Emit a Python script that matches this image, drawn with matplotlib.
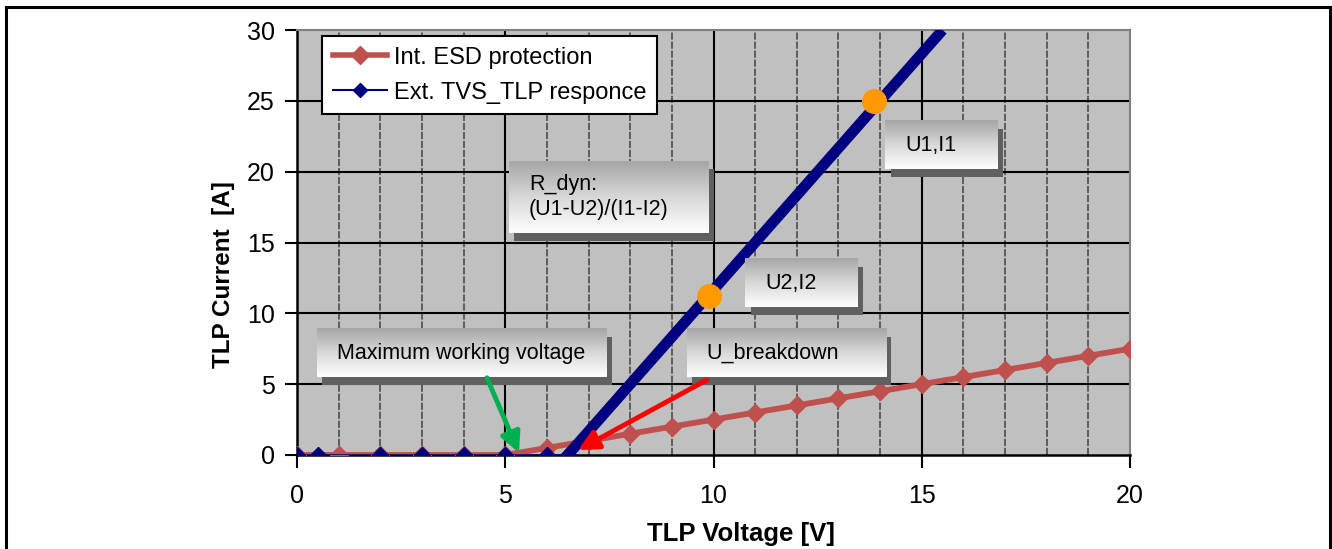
import matplotlib.pyplot as plt
import numpy as np
from matplotlib.colors import LinearSegmentedColormap
from matplotlib.patches import Rectangle
from matplotlib.lines import Line2D

plt.rcParams['font.family'] = ['Liberation Sans', 'DejaVu Sans']

# data
esd_v = [0, 1, 2, 3, 4, 5, 6, 7, 8, 9, 10, 11, 12, 13, 14, 15, 16, 17, 18, 19, 20]
esd_i = [0, 0, 0, 0, 0, 0, 0.5, 1, 1.5, 2, 2.5, 3, 3.5, 4, 4.5, 5, 5.5, 6, 6.5, 7, 7.5]

tvs_v = [0, 0.5, 2, 3, 4, 5, 6, 6.5]
tvs_i = [0, 0, 0, 0, 0, 0, 0, 0]
ramp_v = [6.5, 15.5]
ramp_i = [0, 30]

pts_v = [9.9, 13.85]
pts_i = [11.2, 25]

x_ticks = [0, 5, 10, 15, 20]
y_ticks = [0, 5, 10, 15, 20, 25, 30]

fig = plt.figure(figsize=(13.32, 5.49), dpi=100)
ax = fig.add_axes([297 / 1332, 94 / 549, 833 / 1332, 425 / 549])
ax.set_facecolor('#c0c0c0')

# grid
for xv in range(1, 20):
    if xv % 5 == 0:
        ax.axvline(xv, color='black', lw=1.5, zorder=1)
    else:
        ax.axvline(xv, color='#555555', lw=1.3, ls=(0, (4, 1)), zorder=1)
for yv in y_ticks[1:-1]:
    ax.axhline(yv, color='black', lw=1.5, zorder=1)

# series
ax.plot(esd_v, esd_i, color='#c0504d', lw=4.2, marker='D', ms=9.5, zorder=3,
        label='Int. ESD protection')
ax.plot(ramp_v, ramp_i, color='#000080', lw=7.8, zorder=4, solid_capstyle='butt')
ax.plot(tvs_v, tvs_i, color='#000080', lw=1.8, marker='D', ms=8, zorder=4)
ax.plot(pts_v, pts_i, 'o', color='#ff9900', ms=17, zorder=6)

legend_handles = [
    Line2D([], [], color='#c0504d', lw=4, marker='D', ms=9),
    Line2D([], [], color='#000080', lw=1.5, marker='D', ms=7),
]
leg = ax.legend(legend_handles, ['Int. ESD protection', 'Ext. TVS_TLP responce'],
                loc='upper left', bbox_to_anchor=(0.030, 0.986), borderaxespad=0,
                fontsize=17, fancybox=False, framealpha=1, edgecolor='black',
                handlelength=2.3, handletextpad=0.3, labelspacing=0.55,
                borderpad=0.45)
leg.get_frame().set_linewidth(1.5)
leg.set_zorder(10)

# annotation boxes with gradient fill and shadow
grad_cmap = LinearSegmentedColormap.from_list('g', ['#a6a6a6', '#d8d8d8', '#ffffff'])
grad = np.linspace(0, 1, 80).reshape(-1, 1)


def draw_box(x0, x1, y0, y1, text):
    ax.add_patch(Rectangle((x0 + 0.13, y0 - 0.55), x1 - x0, y1 - y0,
                           facecolor='#606060', edgecolor='none', zorder=7))
    ax.imshow(grad, cmap=grad_cmap, extent=(x0, x1, y0, y1), aspect='auto',
              origin='upper', zorder=8, interpolation='bilinear')
    ax.text(x0 + 0.48, (y0 + y1) / 2, text, fontsize=15.5, va='center', ha='left',
            zorder=9, linespacing=1.25)


draw_box(14.12, 16.83, 20.18, 23.57, 'U1,I1')
draw_box(5.09, 9.89, 15.67, 20.75, 'R_dyn:\n(U1-U2)/(I1-I2)')
draw_box(10.76, 13.47, 10.44, 13.83, 'U2,I2')
draw_box(0.48, 7.44, 5.50, 8.89, 'Maximum working voltage')
draw_box(9.36, 14.14, 5.50, 8.89, 'U_breakdown')

# arrows
ax.annotate('', xy=(5.33, 0.15), xytext=(4.56, 5.45),
            arrowprops=dict(arrowstyle='-|>,head_length=1.2,head_width=0.6',
                            color='#00b050', lw=3.5, shrinkA=0, shrinkB=0),
            zorder=9)
ax.annotate('', xy=(6.75, 0.35), xytext=(9.84, 5.3),
            arrowprops=dict(arrowstyle='-|>,head_length=1.2,head_width=0.6',
                            color='#ff0000', lw=3.5, shrinkA=0, shrinkB=0),
            zorder=9)

ax.set_xlim(0, 20)
ax.set_ylim(0, 30)
ax.set_xticks(x_ticks)
ax.set_yticks(y_ticks)
ax.tick_params(axis='both', direction='out', length=9, width=1.5, labelsize=18,
               color='black')
ax.tick_params(axis='x', pad=12)
ax.tick_params(axis='y', pad=7)

for side in ['left', 'bottom']:
    ax.spines[side].set_color('black')
    ax.spines[side].set_linewidth(1.8)
for side in ['top', 'right']:
    ax.spines[side].set_color('#808080')
    ax.spines[side].set_linewidth(1.5)

ax.set_xlabel('TLP Voltage [V]', fontsize=18.5, fontweight='bold')
ax.set_ylabel('TLP Current  [A]', fontsize=17.5, fontweight='bold')
ax.xaxis.set_label_coords(0.533, -0.158)
ax.yaxis.set_label_coords(-0.075, 0.424)

# outer frame of the image
fig.add_artist(Line2D([6 / 1332, 6 / 1332], [0, 1 - 7 / 549], color='black', lw=2.2,
                      transform=fig.transFigure))
fig.add_artist(Line2D([6 / 1332, 1330 / 1332], [1 - 7 / 549, 1 - 7 / 549], color='black',
                      lw=2.2, transform=fig.transFigure))
fig.add_artist(Line2D([1330 / 1332, 1330 / 1332], [0, 1 - 7 / 549], color='black', lw=2.2,
                      transform=fig.transFigure))

fig.savefig('out.png', dpi=100)
